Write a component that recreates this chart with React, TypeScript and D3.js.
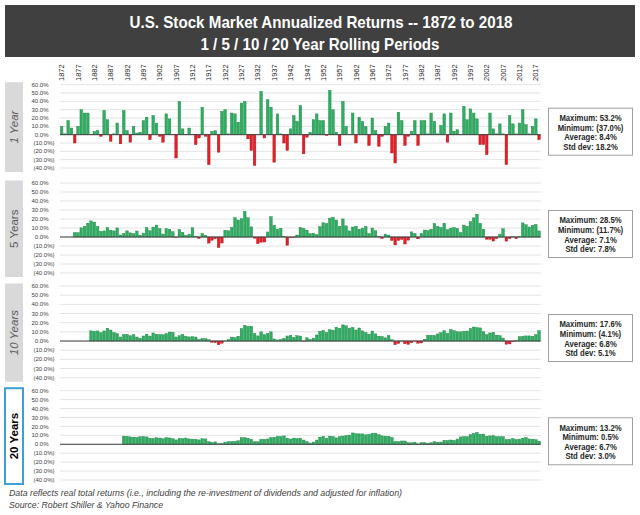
import React from "react";
import * as d3 from "d3";

const firstYear = 1872;
const lastYear = 2018;
const tickYears = [1872, 1877, 1882, 1887, 1892, 1897, 1902, 1907, 1912, 1917, 1922, 1927, 1932, 1937, 1942, 1947, 1952, 1957, 1962, 1967, 1972, 1977, 1982, 1987, 1992, 1997, 2002, 2007, 2012, 2017];
const yTicks = [60, 50, 40, 30, 20, 10, 0, -10, -20, -30, -40];

const oneYear = [
  10, 1, 17, 8, -10, 10, 30, 26, 26, 0.5,
  4, 5, -2, 29, 18, -8, 1, 14, -11, 29,
  5, -9, 10, 2, 3, 17, 21, -6, 23, 14,
  -2, -9, 25, 19, 0.5, -28, 40, 7, 0.5, 8,
  0.5, -12, -4, 33, -2, -36, 4, 5, -21, 28,
  30, 1, 26, 25, 15, 38, 40, -5, -19, -37,
  0.5, 52, -4, 42, 33, -33, 25, 1, -10, -19,
  7, 23, 16, 35, -23, -3, 3, 18, 25, 17,
  17, -1, 53.2, 30, 3, -13, 40, 10, 0.5, 26,
  -10, 21, 16, 10, -13, 20, 5, -14, -2, 10,
  14, -22, -34, 27, 17, -13, -2, 4, 17, -13,
  17, 17, 1, 26, 16, 1, 11, 25, -9, 26,
  4, 6, 0.5, 34, 18, 31, 26, 19, -12, -12,
  -24, 26, 7, 1, 13, 1, -36, 23, 13, 1,
  14, 30, 12, 1, 10, 19, -6,
];

const fiveYear = [
  null, null, null, null,
  4.8, 4.8, 10.2, 11.8, 15.3, 17.9, 16.6, 11.7, 6.3, 6.8,
  10.3, 7.6, 6.8, 10.1, 2.2, 4.0, 6.8, 4.6, 3.8, 6.7,
  2.0, 4.2, 10.4, 7.0, 11.0, 13.3, 9.3, 3.3, 9.3, 8.6,
  5.9, -0.4, 8.5, 5.2, 1.7, 3.2, 10.3, 0.5, -1.6, 4.0,
  2.0, -6.8, -3.6, -1.9, -11.7, -6.7, 7.5, 6.9, 10.8, 21.5,
  18.9, 20.3, 28.5, 21.4, 11.3, -1.3, -7.4, -5.8, -5.6, 5.6,
  22.6, 13.1, 8.7, 9.8, 0.3, -9.2, -0.3, -0.6, 2.2, 10.8,
  9.7, 7.6, 3.8, 4.2, 2.6, 11.5, 15.8, 14.9, 21.0, 21.9,
  18.9, 12.0, 20.1, 12.4, 6.8, 11.1, 11.9, 8.7, 9.9, 11.8,
  3.9, 10.0, 6.9, 0.7, -1.6, 3.2, 2.1, -3.8, -8.8, -3.9,
  -2.7, -7.8, -3.5, 5.7, 4.0, -2.0, 4.0, 7.7, 7.1, 8.7,
  15.1, 11.8, 10.6, 15.4, 8.1, 9.9, 10.6, 9.6, 4.9, 13.3,
  11.9, 17.2, 21.3, 25.4, 15.3, 8.7, -2.5, -2.5, -4.5, -1.8,
  3.2, 9.2, -4.6, -1.9, 0.3, -1.9, 0.5, 15.7, 13.6, 11.1,
  13.0, 14.0, 6.8,
];

const tenYear = [
  null, null, null, null, null, null, null, null, null,
  11.1, 10.5, 11.0, 9.0, 11.0, 14.0, 12.0, 9.2, 8.1, 4.4,
  7.1, 7.2, 5.7, 6.9, 4.4, 3.0, 5.5, 7.4, 5.4, 8.8,
  7.5, 6.8, 6.8, 8.1, 9.8, 9.5, 4.4, 5.9, 7.3, 5.1,
  4.5, 4.8, 4.4, 1.7, 2.9, 2.6, 1.4, -1.5, -1.7, -4.1,
  -2.4, 0.1, 1.5, 4.3, 3.7, 5.3, 13.7, 17.2, 16.0, 16.2,
  8.3, 5.6, 10.0, 7.0, 8.4, 10.0, 2.3, 1.2, 1.8, 2.9,
  5.5, 6.2, 3.9, 5.9, 5.4, -0.2, 3.5, 1.6, 3.2, 6.6,
  10.6, 11.6, 9.2, 12.3, 11.9, 15.1, 13.9, 17.6, 16.6, 14.1,
  14.9, 12.0, 14.2, 11.1, 9.3, 7.4, 10.9, 7.8, 5.2, 4.9,
  3.5, 6.0, 1.4, -4.1, -2.7, 0.2, -3.0, -3.7, -1.8, -0.1,
  -2.4, -2.1, 1.9, 6.4, 6.3, 6.2, 7.8, 9.1, 11.2, 8.4,
  12.5, 11.2, 10.1, 10.0, 10.7, 10.9, 13.8, 15.3, 14.7, 14.3,
  10.3, 6.9, 8.8, 9.5, 6.4, 5.9, 3.2, -3.5, -3.2, -0.8,
  0.6, 4.8, 5.1, 5.6, 5.6, 5.3, 7.0, 11.2,
];

const twentyYear = [
  null, null, null, null, null, null, null, null, null, null,
  null, null, null, null, null, null, null, null, null,
  9.1, 8.9, 8.3, 8.0, 7.6, 8.4, 8.7, 8.3, 6.8, 6.6,
  7.3, 7.0, 6.2, 7.5, 7.1, 6.2, 4.9, 6.6, 6.3, 7.0,
  6.0, 5.8, 5.6, 4.9, 6.3, 6.0, 2.9, 2.1, 2.7, 0.5,
  1.0, 2.4, 3.0, 3.0, 3.3, 3.9, 7.4, 7.4, 6.8, 5.6,
  2.8, 2.8, 5.6, 5.6, 6.0, 7.6, 7.9, 8.9, 8.7, 9.4,
  6.9, 5.9, 6.9, 6.5, 6.9, 4.8, 2.9, 1.4, 2.5, 4.7,
  8.0, 8.9, 6.5, 9.1, 8.6, 7.2, 8.6, 9.2, 9.7, 10.3,
  12.7, 11.8, 11.7, 11.7, 10.6, 11.2, 12.4, 12.5, 10.7, 9.4,
  9.1, 8.9, 7.6, 3.2, 3.1, 3.7, 3.7, 1.9, 1.6, 2.4,
  0.5, 1.9, 1.7, 1.0, 1.7, 3.1, 2.3, 2.5, 4.5, 4.1,
  4.8, 4.3, 5.9, 8.2, 8.5, 8.5, 10.8, 12.2, 13.2, 11.3,
  11.4, 9.0, 9.4, 9.7, 8.5, 8.4, 8.4, 5.4, 5.4, 6.5,
  5.3, 5.8, 6.9, 7.5, 6.0, 5.6, 5.1, 3.6,
];

const panelNames = ["1 Year", "5 Years", "10 Years", "20 Years"];
const statMax = ["53.2%", "28.5%", "17.6%", "13.2%"];
const statMin = ["(37.0%)", "(11.7%)", "(4.1%)", "0.5%"];
const statAvg = ["8.4%", "7.1%", "6.8%", "6.7%"];
const statStd = ["18.2%", "7.8%", "5.1%", "3.0%"];

const titleLine1 = "U.S. Stock Market Annualized Returns  -- 1872 to 2018";
const titleLine2 = "1 / 5 / 10 / 20 Year Rolling Periods";
const footLine1 = "Data reflects real total returns (i.e., including the re-investment of dividends and adjusted for inflation)";
const footLine2 = "Source: Robert Shiller & Yahoo Finance";

const FONT = "'Liberation Sans', Arial, Helvetica, sans-serif";
const years = d3.range(firstYear, lastYear + 1);
const series = [oneYear, fiveYear, tenYear, twentyYear];
const panelBox = [
  { top: 84.7, bottom: 168 },
  { top: 183, bottom: 273 },
  { top: 286, bottom: 377.7 },
  { top: 390.7, bottom: 480 },
];

const x = d3.scaleBand<number>().domain(years).range([60, 540.7]).paddingInner(0.2).paddingOuter(0.1);

const fmt = (v: number) => (v >= 0 ? `${v.toFixed(1)}%` : `(${Math.abs(v).toFixed(1)}%)`);

function Panel({ idx }: { idx: number }) {
  const { top, bottom } = panelBox[idx];
  const y = d3.scaleLinear().domain([-40, 60]).range([bottom, top]);
  const data = series[idx];
  const zero = y(0);
  const bx = 5, bw = 18;
  const by = top - 2.5, bh = bottom - top + 6.5;
  const isLast = idx === 3;
  const stats = [
    `Maximum: ${statMax[idx]}`,
    `Minimum: ${statMin[idx]}`,
    `Average: ${statAvg[idx]}`,
    `Std dev: ${statStd[idx]}`,
  ];
  const sy = zero - 26.5;
  return (
    <g>
      <rect x={bx} y={by} width={bw} height={bh}
        fill={isLast ? "#ffffff" : "#d9d9d9"}
        stroke={isLast ? "#3d9fd3" : "none"} strokeWidth={isLast ? 2 : 0} />
      <text
        transform={`translate(${bx + bw / 2},${by + bh / 2}) rotate(-90)`}
        textAnchor="middle" dy="0.36em"
        fontFamily={FONT} fontSize={11.5}
        fontStyle={idx === 0 || idx === 2 ? "italic" : "normal"}
        fontWeight={isLast ? "bold" : "normal"}
        fill={isLast ? "#000000" : "#595959"}
      >{panelNames[idx]}</text>
      {yTicks.map((t) => (
        <g key={t}>
          <line x1={60} x2={540.7} y1={y(t)} y2={y(t)} stroke="#dcdcdc" strokeWidth={0.8} />
          <text x={t >= 0 ? 48.5 : 54.5} y={y(t)} dy="0.35em" textAnchor="end"
            fontFamily={FONT} fontSize={6} fill="#404040">{fmt(t)}</text>
        </g>
      ))}
      {data.map((v, i) =>
        v === null ? null : (
          <rect key={i}
            x={x(years[i])} width={x.bandwidth()}
            y={y(Math.max(0, v as number))}
            height={Math.abs(y(v as number) - zero)}
            fill={(v as number) >= 0 ? "#2fae62" : "#e2202a"}
            stroke={(v as number) >= 0 ? "#1d8446" : "#b3131b"}
            strokeWidth={0.4} />
        )
      )}
      <line x1={60} x2={540.7} y1={zero} y2={zero} stroke="#404040" strokeWidth={1} />
      <rect x={548.5} y={sy} width={84} height={47} fill="#ffffff" stroke="#a0a0a0" strokeWidth={1} />
      {stats.map((s, k) => (
        <text key={k}
          transform={`translate(590.5,${sy + 12.8 + 9.6 * k}) scale(0.86,1)`}
          textAnchor="middle" fontFamily={FONT} fontSize={9} fontWeight="bold" fill="#262626">{s}</text>
      ))}
    </g>
  );
}

export default function App() {
  return (
    <div style={{ position: "absolute", left: 0, top: 0, width: 640, height: 515, background: "#ffffff" }}>
      <svg width={640} height={515} viewBox="0 0 640 515" style={{ display: "block" }}>
        <rect x={0} y={0} width={640} height={515} fill="#ffffff" />
        <rect x={5} y={5} width={630} height={52} fill="#404040" />
        <text x={321} y={28} textAnchor="middle" fontFamily={FONT} fontSize={17} fontWeight="bold" fill="#ffffff"
          textLength={383} lengthAdjust="spacingAndGlyphs">{titleLine1}</text>
        <text x={320} y={50} textAnchor="middle" fontFamily={FONT} fontSize={17} fontWeight="bold" fill="#ffffff"
          textLength={239} lengthAdjust="spacingAndGlyphs">{titleLine2}</text>
        {tickYears.map((yr) => (
          <text key={yr}
            transform={`translate(${(x(yr) as number) + x.bandwidth() / 2},81) rotate(-90)`}
            dy="0.35em" textAnchor="start" fontFamily={FONT} fontSize={7.5} fill="#262626">{yr}</text>
        ))}
        {[0, 1, 2, 3].map((i) => <Panel key={i} idx={i} />)}
        <text x={9} y={496} fontFamily={FONT} fontSize={9} fontStyle="italic" fill="#404040"
          textLength={393} lengthAdjust="spacingAndGlyphs">{footLine1}</text>
        <text x={9} y={508} fontFamily={FONT} fontSize={9} fontStyle="italic" fill="#404040"
          textLength={154} lengthAdjust="spacingAndGlyphs">{footLine2}</text>
      </svg>
    </div>
  );
}
